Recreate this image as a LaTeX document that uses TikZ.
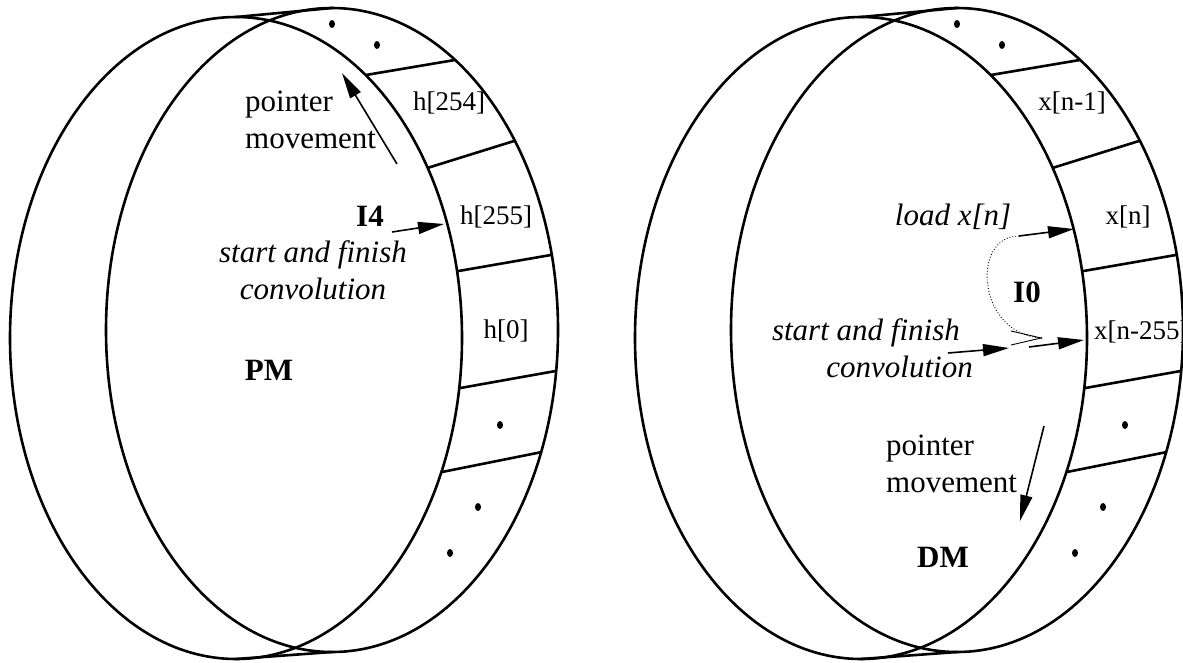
\documentclass[tikz,border=0pt]{standalone}
\usepackage{fontspec}
\setmainfont{Liberation Serif}
\usepackage{tikz}
\usetikzlibrary{calc,arrows.meta}

\begin{document}
\begin{tikzpicture}[x=1pt,y=-1pt,
  rim/.style={line width=2.6pt},
  ptr/.style={line width=1.6pt,-{Triangle[length=26pt,width=12pt]}},
  lbl/.style={inner sep=0pt,font=\fontsize{31}{37}\selectfont},
  itlbl/.style={inner sep=0pt,font=\fontsize{31}{37}\selectfont\itshape},
  bflbl/.style={inner sep=0pt,font=\fontsize{31}{37}\selectfont\bfseries},
  cell/.style={inner sep=0pt,font=\fontsize{27}{32}\selectfont}]
\useasboundingbox (0,0) rectangle (1183,662);
% program memory
\begin{scope}[shift={(0,0)}]
\coordinate (pmback) at (236,338);
\coordinate (pmfront) at (332,330);
\draw[rim] (pmback) ellipse [x radius=226,y radius=321];
\draw[rim] (pmfront) ellipse [x radius=226,y radius=322];
\draw[rim] ($(pmback)+(0,-321)$) -- ($(pmfront)+(0,-322)$);
\draw[rim] ($(pmback)+(0,321)$) -- ($(pmfront)+(0,322)$);
\foreach \a/\b in {-55/-57,-32/-36,-12/-13.5,9/7.3,24.7/22.3}
  \draw[rim] ($(pmback)+(\a:226 and 321)$) -- ($(pmfront)+(\b:226 and 322)$);
\foreach \p in {(332,24),(377,45),(500,425),(478,507),(450,553)}
  \fill \p ellipse [x radius=3,y radius=4];
\node[cell] (h254) at (449,103) {h[254]};
\node[cell] (h255) at (496,217) {h[255]};
\node[cell] (h0) at (506,331) {h[0]};
\node[lbl,anchor=base west,align=left] (pmptr) at (245,148) {pointer\\movement};
\node[bflbl,anchor=base] (pmreg) at (370,226) {I4};
\node[itlbl,anchor=base,align=center] (pmconv) at (313,299) {start and finish\\convolution};
\node[bflbl,anchor=base] (pm) at (269,380) {PM};
\coordinate (pmptrtail) at (397,164);
\coordinate (pmptrtip) at (342,73);
\draw[ptr] (pmptrtail) -- (pmptrtip);
\coordinate (pmregtail) at (392,232);
\coordinate (pmregtip) at (444,224);
\draw[ptr] (pmregtail) -- (pmregtip);
\end{scope}
% data memory
\begin{scope}[shift={(625,0)}]
\coordinate (dmback) at (236,338);
\coordinate (dmfront) at (332,330);
\draw[rim] (dmback) ellipse [x radius=226,y radius=321];
\draw[rim] (dmfront) ellipse [x radius=226,y radius=322];
\draw[rim] ($(dmback)+(0,-321)$) -- ($(dmfront)+(0,-322)$);
\draw[rim] ($(dmback)+(0,321)$) -- ($(dmfront)+(0,322)$);
\foreach \a/\b in {-55/-57,-32/-36,-12/-13.5,9/7.3,24.7/22.3}
  \draw[rim] ($(dmback)+(\a:226 and 321)$) -- ($(dmfront)+(\b:226 and 322)$);
\foreach \p in {(332,24),(377,45),(500,425),(478,507),(450,553)}
  \fill \p ellipse [x radius=3,y radius=4];
\node[cell] (xnm1) at (447,103) {x[n-1]};
\node[cell] (xn) at (503,217) {x[n]};
\node[cell,anchor=west] (xnm255) at (469,332) {x[n-255]};
\node[itlbl,anchor=base] (dmload) at (328,225) {load x[n]};
\node[bflbl,anchor=base] (dmreg) at (402,302) {I0};
\node[itlbl,anchor=base east,align=right] (dmconv) at (348,377) {start and finish\hspace*{13pt}\\convolution};
\node[lbl,anchor=base west,align=left] (dmptr) at (261,492) {pointer\\movement};
\node[bflbl,anchor=base] (dm) at (318,567) {DM};
\coordinate (dmloadtail) at (394,236);
\coordinate (dmloadtip) at (449,229);
\draw[ptr] (dmloadtail) -- (dmloadtip);
\coordinate (dmwrap) at (418,338);
\draw[line width=0.9pt,dotted] (dmloadtail) .. controls (345,236) and (352,336) .. (dmwrap);
\draw[line width=0.9pt,-{Straight Barb[length=30pt,width=14pt]}] ($(dmwrap)+(-2,0)$) -- (dmwrap);
\coordinate (dmconvtail) at (323,353);
\coordinate (dmconvtip) at (384,348);
\draw[ptr] (dmconvtail) -- (dmconvtip);
\coordinate (dmregtail) at (404,347);
\coordinate (dmregtip) at (459,340);
\draw[ptr] (dmregtail) -- (dmregtip);
\coordinate (dmptrtail) at (419,426);
\coordinate (dmptrtip) at (395,521);
\draw[ptr] (dmptrtail) -- (dmptrtip);
\end{scope}
\end{tikzpicture}
\end{document}
